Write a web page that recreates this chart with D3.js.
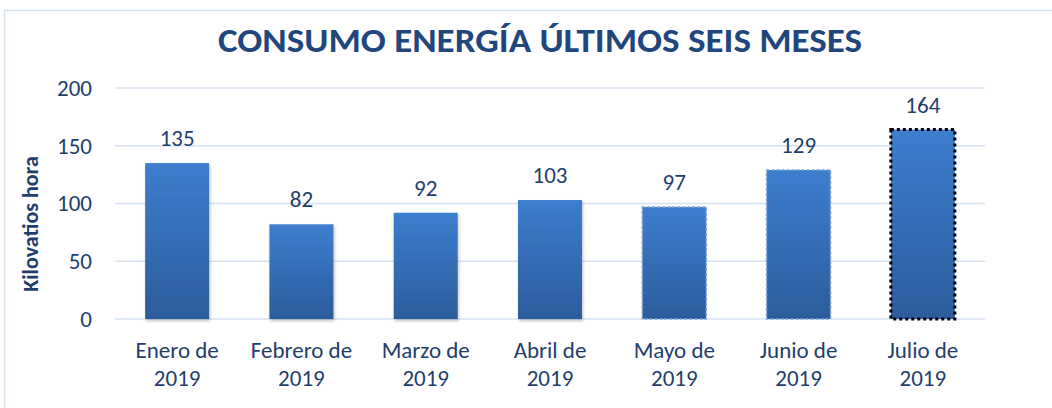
<!DOCTYPE html>
<html><head><meta charset="utf-8">
<script src="https://cdn.jsdelivr.net/npm/d3@7"></script>
<style>body{margin:0;background:#fff;}svg{display:block;}svg text{font-family:Carlito,"Open Sans",sans-serif;}</style>
</head><body><svg id="c" width="1052" height="408"></svg>
<script>
const categories = ["Enero de|2019","Febrero de|2019","Marzo de|2019","Abril de|2019","Mayo de|2019","Junio de|2019","Julio de|2019"];
const values = [135, 82, 92, 103, 97, 129, 164];
const yTicks = [0, 50, 100, 150, 200];
const title = "CONSUMO ENERGÍA ÚLTIMOS SEIS MESES";
const yTitle = "Kilovatios hora";

const svg = d3.select("#c");
const textCol = "#1f3e6e";
svg.append("rect").attr("x",4.5).attr("y",10.5).attr("width",1060).attr("height",420)
  .attr("fill","#fff").attr("stroke","#d5e2f3").attr("stroke-width",1.5);

const defs = svg.append("defs");
const g1 = defs.append("linearGradient").attr("id","bg").attr("x1",0).attr("y1",0).attr("x2",0).attr("y2",1);
g1.append("stop").attr("offset","0%").attr("stop-color","#3d7ece");
g1.append("stop").attr("offset","100%").attr("stop-color","#2c5c9c");
const f = defs.append("filter").attr("id","sh").attr("x","-20%").attr("y","-10%").attr("width","140%").attr("height","125%");
f.append("feDropShadow").attr("dx",1).attr("dy",2).attr("stdDeviation",1.5).attr("flood-color","#000").attr("flood-opacity",0.25);

const x = d3.scaleBand().domain(categories).range([115,985]).paddingInner(0.485).paddingOuter(0.2425);
const y = d3.scaleLinear().domain([0,200]).range([319,88]);

svg.append("text").attr("x",540).attr("y",52).attr("text-anchor","middle")
  .attr("font-size",34).attr("font-weight","bold").attr("fill","#1f477d")
  .attr("textLength",644).attr("lengthAdjust","spacingAndGlyphs").text(title);

// grid
svg.append("g").selectAll("line").data(yTicks).join("line")
  .attr("x1",115).attr("x2",985).attr("y1",d=>y(d)).attr("y2",d=>y(d))
  .attr("stroke","#d6e2f2").attr("stroke-width",1.5);

const ya = svg.append("g").attr("transform","translate(102,0)")
  .call(d3.axisLeft(y).tickValues(yTicks).tickSize(0).tickPadding(10));
ya.attr("font-family",null).attr("font-size",null);
ya.select(".domain").remove();
ya.selectAll("text").attr("font-size",23).attr("fill",textCol).attr("dy","0.32em");

svg.append("text").attr("transform","translate(38,224) rotate(-90)").attr("text-anchor","middle")
  .attr("font-size",22).attr("font-weight","bold").attr("fill",textCol).text(yTitle);

// bars
svg.append("g").selectAll("rect").data(values).join("rect")
  .attr("x",(d,i)=>x(categories[i])).attr("width",x.bandwidth())
  .attr("y",d=>y(d)).attr("height",d=>y(0)-y(d))
  .attr("fill","url(#bg)")
  .attr("filter",(d,i)=>i<4?"url(#sh)":null)
  .attr("stroke",(d,i)=>i===6?"#000":(i>=4?"#7fa5d6":"none"))
  .attr("stroke-width",(d,i)=>i===6?3:1.5)
  .attr("stroke-dasharray",(d,i)=>i===6?"3,3":(i>=4?"3,2":null));

// value labels
svg.append("g").selectAll("text").data(values).join("text")
  .attr("x",(d,i)=>x(categories[i])+x.bandwidth()/2).attr("y",d=>y(d)-17)
  .attr("text-anchor","middle").attr("font-size",23).attr("fill",textCol).text(d=>d);

// category labels
const xa = svg.append("g").attr("transform","translate(0,319)")
  .call(d3.axisBottom(x).tickSize(0).tickFormat(""));
xa.attr("font-family",null).attr("font-size",null);
xa.select(".domain").remove();
xa.selectAll(".tick").each(function(d){
  const t = d3.select(this).append("text").attr("text-anchor","middle").attr("font-size",23).attr("fill",textCol);
  d.split("|").forEach((s,k)=>t.append("tspan").attr("x",0).attr("y",39+k*28).text(s));
});
</script></body></html>
